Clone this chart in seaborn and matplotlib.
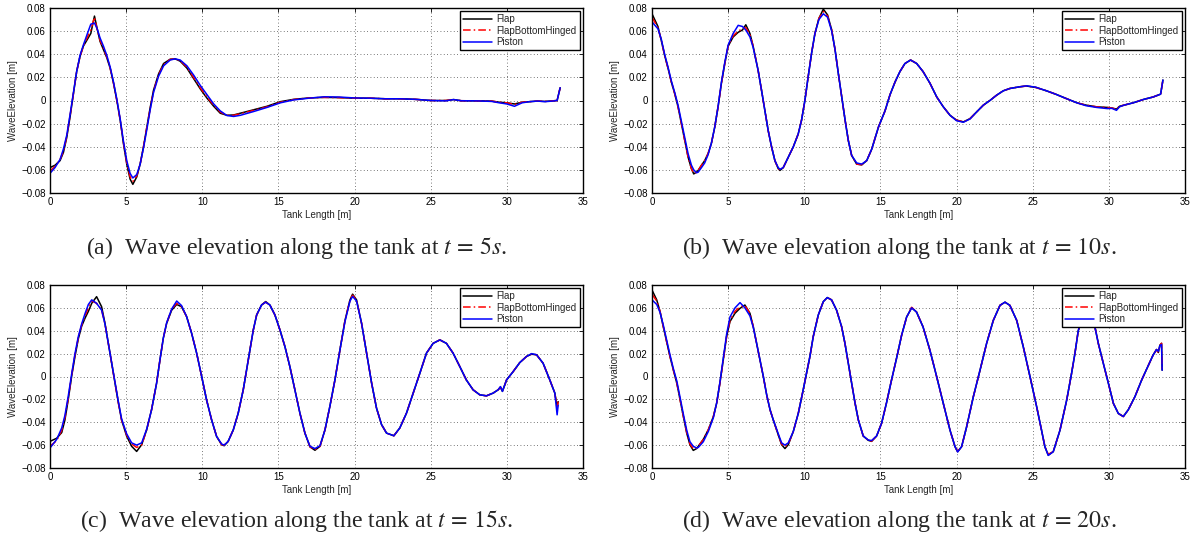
import numpy as np
import pandas as pd
import matplotlib
matplotlib.use("Agg")
import matplotlib.pyplot as plt
from matplotlib.ticker import FuncFormatter
import seaborn as sns

# ---------------------------------------------------------------------------
# Free-surface elevation along the tank for three wave-maker types
# ---------------------------------------------------------------------------
SERIES = ["Flap", "FlapBottomHinged", "Piston"]

# t = 5 s
X_A = [0, 0.33, 0.66, 0.88, 1.10, 1.32, 1.54, 1.75, 1.97, 2.19, 2.46, 2.68, 2.92, 3.10, 3.29,
       3.51, 3.73, 3.95, 4.17, 4.39, 4.61, 4.82, 5.04, 5.26, 5.44, 5.70, 5.92, 6.14, 6.36, 6.58,
       6.80, 7.13, 7.46, 7.89, 8.22, 8.55, 8.99, 9.43, 9.87, 10.31, 10.75, 11.18, 11.62, 12.06,
       12.50, 13.38, 14.25, 15.13, 16.0, 17.0, 18.0, 19.0, 20.0, 21.0, 22.0, 23.0, 24.0, 25.0,
       26.0, 26.5, 27.0, 28.0, 29.0, 29.5, 30.0, 30.5, 31.0, 31.5, 32.0, 32.5, 33.0, 33.3, 33.5]
FLAP_A = [-0.058, -0.056, -0.052, -0.045, -0.032, -0.014, 0.006, 0.025, 0.038, 0.047, 0.053,
          0.058, 0.073, 0.062, 0.051, 0.044, 0.037, 0.028, 0.015, 0.0, -0.017, -0.037, -0.055,
          -0.068, -0.0725, -0.066, -0.055, -0.040, -0.023, -0.006, 0.009, 0.023, 0.032, 0.0357,
          0.036, 0.034, 0.028, 0.019, 0.010, 0.002, -0.005, -0.011, -0.0128, -0.0125, -0.011,
          -0.008, -0.005, -0.001, 0.001, 0.0022, 0.0027, 0.0025, 0.002, 0.002, 0.0015, 0.0015,
          0.001, 0.0, 0.0, 0.0008, -0.0002, -0.0003, -0.0005, -0.0015, -0.002, -0.003, -0.0015,
          -0.001, -0.0005, -0.0008, -0.0003, 0.0, 0.011]
HINGED_A = [-0.061, -0.057, -0.051, -0.044, -0.031, -0.013, 0.006, 0.025, 0.038, 0.047, 0.055,
            0.061, 0.072, 0.061, 0.052, 0.045, 0.038, 0.028, 0.015, 0.0, -0.017, -0.036, -0.054,
            -0.066, -0.070, -0.065, -0.055, -0.040, -0.023, -0.007, 0.008, 0.022, 0.031, 0.0355,
            0.036, 0.0345, 0.029, 0.020, 0.011, 0.003, -0.004, -0.010, -0.0128, -0.0128, -0.0115,
            -0.0085, -0.0055, -0.0015, 0.0008, 0.0022, 0.0027, 0.0025, 0.002, 0.002, 0.0015, 0.0015,
            0.001, 0.0, 0.0, 0.0008, -0.0002, -0.0003, -0.0005, -0.0015, -0.002, -0.0035, -0.0015,
            -0.001, -0.0005, -0.0008, -0.0003, 0.0, 0.011]
PISTON_A = [-0.063, -0.058, -0.051, -0.042, -0.030, -0.012, 0.007, 0.025, 0.039, 0.048, 0.058,
            0.066, 0.067, 0.062, 0.054, 0.047, 0.039, 0.029, 0.016, 0.001, -0.016, -0.035, -0.052,
            -0.063, -0.067, -0.064, -0.055, -0.041, -0.025, -0.008, 0.007, 0.021, 0.030, 0.035,
            0.036, 0.035, 0.030, 0.022, 0.013, 0.005, -0.003, -0.009, -0.013, -0.0138, -0.0128,
            -0.0095, -0.006, -0.002, 0.0005, 0.002, 0.0032, 0.003, 0.0022, 0.002, 0.0015, 0.0015,
            0.001, 0.0, -0.0003, 0.0008, -0.0002, -0.0003, -0.0008, -0.002, -0.003, -0.005, -0.002,
            -0.001, -0.0005, -0.001, -0.0005, 0.0, 0.011]

# t = 10 s
X_B = [0, 0.39, 0.61, 0.83, 1.05, 1.27, 1.49, 1.71, 1.93, 2.15, 2.37, 2.59, 2.74, 2.92, 3.03,
       3.25, 3.46, 3.68, 3.90, 4.12, 4.34, 4.56, 4.78, 5.00, 5.33, 5.66, 5.94, 6.16, 6.43, 6.64,
       6.97, 7.19, 7.41, 7.63, 7.85, 8.07, 8.29, 8.40, 8.62, 8.95, 9.28, 9.60, 9.82, 10.04, 10.26,
       10.48, 10.70, 10.96, 11.25, 11.53, 11.80, 12.02, 12.24, 12.46, 12.68, 12.89, 13.11, 13.44,
       13.77, 14.10, 14.43, 14.87, 15.30, 15.63, 15.96, 16.28, 16.61, 16.98, 17.38, 17.80, 18.25,
       18.70, 19.13, 19.57, 20.00, 20.45, 20.88, 21.31, 21.76, 22.19, 22.63, 23.07, 23.50, 24.17,
       24.60, 25.20, 25.90, 26.50, 27.20, 27.90, 28.50, 29.20, 29.90, 30.20, 30.50, 30.70, 31.00,
       31.60, 32.30, 32.90, 33.40, 33.55]
FLAP_B = [0.075, 0.064, 0.052, 0.039, 0.028, 0.016, 0.006, -0.0055, -0.020, -0.0345, -0.049,
          -0.059, -0.0635, -0.062, -0.0605, -0.056, -0.052, -0.046, -0.037, -0.023, -0.0055, 0.015,
          0.032, 0.047, 0.055, 0.059, 0.061, 0.0655, 0.058, 0.047, 0.026, 0.009, -0.0085, -0.026,
          -0.040, -0.052, -0.059, -0.0605, -0.058, -0.049, -0.040, -0.029, -0.017, 0.0, 0.021,
          0.041, 0.058, 0.071, 0.079, 0.074, 0.061, 0.044, 0.023, 0.003, -0.017, -0.0345, -0.0475,
          -0.055, -0.0557, -0.052, -0.042, -0.023, -0.009, 0.005, 0.016, 0.025, 0.032, 0.035,
          0.032, 0.025, 0.015, 0.003, -0.0055, -0.0128, -0.017, -0.0185, -0.0157, -0.010, -0.004,
          0.0, 0.0046, 0.0084, 0.0104, 0.0119, 0.0125, 0.0113, 0.0084, 0.0055, 0.0017, -0.002,
          -0.004, -0.0055, -0.006, -0.0065, -0.0075, -0.005, -0.004, -0.002, 0.001, 0.003, 0.0055,
          0.0177]
HINGED_B = [0.072, 0.063, 0.052, 0.039, 0.028, 0.016, 0.006, -0.0055, -0.020, -0.0345, -0.049,
            -0.059, -0.063, -0.062, -0.0605, -0.056, -0.052, -0.046, -0.037, -0.023, -0.0055, 0.015,
            0.032, 0.047, 0.056, 0.060, 0.062, 0.063, 0.057, 0.047, 0.026, 0.009, -0.0085, -0.026,
            -0.040, -0.052, -0.059, -0.060, -0.058, -0.049, -0.040, -0.029, -0.017, 0.0, 0.021,
            0.041, 0.058, 0.071, 0.077, 0.073, 0.061, 0.044, 0.023, 0.003, -0.017, -0.0345, -0.0475,
            -0.055, -0.0555, -0.052, -0.042, -0.023, -0.009, 0.005, 0.016, 0.025, 0.032, 0.035,
            0.032, 0.025, 0.015, 0.003, -0.0055, -0.0128, -0.017, -0.0185, -0.0157, -0.010, -0.004,
            0.0, 0.0046, 0.0084, 0.0104, 0.0119, 0.0125, 0.0113, 0.0084, 0.0055, 0.0017, -0.002,
            -0.004, -0.0055, -0.006, -0.0065, -0.0075, -0.005, -0.004, -0.002, 0.001, 0.003, 0.0055,
            0.0177]
PISTON_B = [0.068, 0.062, 0.053, 0.040, 0.029, 0.017, 0.007, -0.004, -0.018, -0.032, -0.046,
            -0.056, -0.060, -0.0625, -0.062, -0.058, -0.054, -0.047, -0.037, -0.023, -0.005, 0.016,
            0.033, 0.048, 0.058, 0.065, 0.064, 0.061, 0.055, 0.046, 0.026, 0.009, -0.0085, -0.026,
            -0.040, -0.052, -0.058, -0.0595, -0.058, -0.049, -0.040, -0.029, -0.017, 0.0, 0.021,
            0.041, 0.058, 0.070, 0.075, 0.072, 0.060, 0.044, 0.023, 0.003, -0.017, -0.0345, -0.0475,
            -0.054, -0.055, -0.052, -0.042, -0.023, -0.009, 0.005, 0.016, 0.025, 0.032, 0.035,
            0.032, 0.025, 0.015, 0.003, -0.0055, -0.0128, -0.0175, -0.0188, -0.016, -0.010, -0.004,
            0.0, 0.0046, 0.0084, 0.0104, 0.0119, 0.0127, 0.0115, 0.0084, 0.0055, 0.0017, -0.002,
            -0.0045, -0.006, -0.007, -0.0068, -0.0085, -0.0055, -0.004, -0.002, 0.001, 0.003, 0.0055,
            0.0177]

# t = 15 s
X_C = [0, 0.44, 0.77, 0.98, 1.20, 1.42, 1.64, 1.86, 2.08, 2.30, 2.52, 2.74, 3.06, 3.39, 3.61,
       3.83, 4.05, 4.27, 4.49, 4.70, 5.03, 5.36, 5.69, 6.02, 6.35, 6.67, 7.00, 7.22, 7.44, 7.66,
       7.99, 8.32, 8.64, 8.97, 9.30, 9.63, 9.96, 10.28, 10.61, 10.94, 11.27, 11.44, 11.70, 12.04,
       12.36, 12.69, 12.91, 13.13, 13.35, 13.57, 13.89, 14.16, 14.44, 14.77, 15.10, 15.43, 15.75,
       16.08, 16.41, 16.74, 17.07, 17.40, 17.73, 18.06, 18.38, 18.71, 19.04, 19.37, 19.70, 19.87,
       20.13, 20.46, 20.79, 21.12, 21.44, 21.77, 22.10, 22.58, 22.97, 23.41, 23.85, 24.29, 24.72,
       25.16, 25.60, 26.03, 26.47, 26.91, 27.34, 27.78, 28.22, 28.66, 29.10, 29.43, 29.58, 29.71,
       29.98, 30.42, 30.85, 31.29, 31.62, 31.95, 32.38, 32.82, 33.15, 33.30, 33.37]
FLAP_C = [-0.0567, -0.054, -0.049, -0.038, -0.020, 0.0, 0.0175, 0.033, 0.044, 0.051, 0.057, 0.064,
          0.0698, 0.061, 0.0465, 0.029, 0.0116, -0.0058, -0.023, -0.038, -0.052, -0.061, -0.0655,
          -0.0596, -0.0465, -0.029, -0.0058, 0.0145, 0.0335, 0.0465, 0.058, 0.063, 0.061, 0.0524,
          0.0378, 0.0204, 0.0, -0.0204, -0.0378, -0.0524, -0.0596, -0.0605, -0.0567, -0.0465,
          -0.032, -0.0116, 0.0058, 0.0233, 0.0407, 0.0538, 0.0625, 0.0655, 0.0625, 0.0538, 0.0407,
          0.026, 0.0087, -0.0116, -0.032, -0.0495, -0.0615, -0.0645, -0.061, -0.0465, -0.026,
          -0.003, 0.0233, 0.049, 0.067, 0.072, 0.067, 0.0465, 0.0204, -0.0058, -0.0276, -0.042,
          -0.0495, -0.0518, -0.045, -0.032, -0.0145, 0.003, 0.0204, 0.029, 0.032, 0.029, 0.0204,
          0.0087, -0.003, -0.0116, -0.016, -0.0169, -0.0145, -0.0116, -0.0093, -0.013, -0.003,
          0.0044, 0.0122, 0.0175, 0.0195, 0.019, 0.0116, -0.003, -0.0145, -0.026, -0.022]
HINGED_C = [-0.061, -0.056, -0.047, -0.036, -0.019, 0.001, 0.019, 0.034, 0.045, 0.053, 0.060,
            0.066, 0.064, 0.058, 0.046, 0.029, 0.0116, -0.0058, -0.023, -0.038, -0.051, -0.059,
            -0.062, -0.060, -0.0465, -0.029, -0.0058, 0.0145, 0.0335, 0.0465, 0.059, 0.064, 0.061,
            0.0524, 0.0378, 0.0204, 0.0, -0.0204, -0.0378, -0.0524, -0.0596, -0.060, -0.0567,
            -0.0465, -0.032, -0.0116, 0.0058, 0.0233, 0.0407, 0.0538, 0.0625, 0.065, 0.0625, 0.0538,
            0.0407, 0.026, 0.0087, -0.0116, -0.032, -0.0495, -0.0615, -0.064, -0.061, -0.0465,
            -0.026, -0.003, 0.0233, 0.049, 0.067, 0.071, 0.067, 0.0465, 0.0204, -0.0058, -0.0276,
            -0.042, -0.0495, -0.0518, -0.045, -0.032, -0.0145, 0.003, 0.0204, 0.029, 0.032, 0.029,
            0.0204, 0.0087, -0.003, -0.0116, -0.016, -0.0169, -0.0145, -0.0116, -0.0093, -0.013,
            -0.003, 0.0044, 0.0122, 0.0175, 0.0195, 0.019, 0.0116, -0.003, -0.0145, -0.028, -0.022]
PISTON_C = [-0.0625, -0.055, -0.045, -0.034, -0.017, 0.002, 0.020, 0.035, 0.046, 0.055, 0.063,
            0.067, 0.064, 0.058, 0.046, 0.029, 0.012, -0.005, -0.022, -0.037, -0.050, -0.058,
            -0.060, -0.058, -0.046, -0.029, -0.0058, 0.0145, 0.0335, 0.047, 0.059, 0.066, 0.062,
            0.0524, 0.0378, 0.0204, 0.0, -0.0204, -0.0378, -0.0524, -0.059, -0.060, -0.0567,
            -0.0465, -0.032, -0.0116, 0.0058, 0.0233, 0.0407, 0.0538, 0.0625, 0.065, 0.0625, 0.0538,
            0.0407, 0.026, 0.0087, -0.0116, -0.032, -0.0495, -0.061, -0.063, -0.0605, -0.0465,
            -0.026, -0.003, 0.0233, 0.048, 0.066, 0.070, 0.066, 0.0465, 0.0204, -0.0058, -0.0276,
            -0.042, -0.0495, -0.0518, -0.045, -0.032, -0.0145, 0.003, 0.0204, 0.029, 0.032, 0.029,
            0.0204, 0.0087, -0.003, -0.0116, -0.016, -0.0169, -0.0145, -0.0116, -0.0088, -0.013,
            -0.003, 0.0044, 0.0122, 0.0175, 0.020, 0.019, 0.0116, -0.003, -0.0145, -0.0335, -0.025]

# t = 20 s
X_D = [0, 0.31, 0.53, 0.74, 0.96, 1.18, 1.40, 1.63, 1.84, 2.06, 2.28, 2.49, 2.71, 2.93, 3.04,
       3.37, 3.70, 4.03, 4.25, 4.46, 4.68, 4.90, 5.12, 5.45, 5.78, 6.10, 6.43, 6.65, 6.87, 7.09,
       7.31, 7.53, 7.75, 7.96, 8.29, 8.51, 8.73, 8.95, 9.28, 9.61, 9.93, 10.15, 10.37, 10.59,
       10.92, 11.25, 11.51, 11.79, 12.12, 12.45, 12.67, 12.89, 13.11, 13.33, 13.55, 13.87, 14.20,
       14.42, 14.75, 15.08, 15.40, 15.73, 16.06, 16.39, 16.72, 17.05, 17.37, 17.80, 18.25, 18.69,
       19.13, 19.57, 19.90, 20.07, 20.33, 20.66, 21.10, 21.54, 21.97, 22.41, 22.85, 23.18, 23.50,
       23.95, 24.38, 24.82, 25.26, 25.58, 25.80, 26.02, 26.35, 26.79, 27.23, 27.55, 27.77, 27.99,
       28.30, 28.60, 28.85, 29.09, 29.31, 29.64, 29.97, 30.30, 30.62, 30.95, 31.28, 31.71, 32.15,
       32.60, 32.90, 33.13, 33.25, 33.35, 33.46, 33.50]
FLAP_D = [0.0756, 0.067, 0.0567, 0.0436, 0.0305, 0.0175, 0.0058, -0.0058, -0.020, -0.035, -0.0495,
          -0.0596, -0.0646, -0.063, -0.061, -0.055, -0.0465, -0.035, -0.023, -0.0058, 0.0145, 0.035,
          0.048, 0.0553, 0.0596, 0.0625, 0.0553, 0.0436, 0.029, 0.0145, 0.0, -0.016, -0.029, -0.0378,
          -0.051, -0.0596, -0.063, -0.0596, -0.048, -0.032, -0.0116, 0.003, 0.0175, 0.035, 0.0538,
          0.0655, 0.069, 0.067, 0.058, 0.0436, 0.029, 0.0116, -0.0058, -0.023, -0.038, -0.052,
          -0.0558, -0.0567, -0.052, -0.0407, -0.023, -0.003, 0.016, 0.036, 0.052, 0.0602, 0.0564,
          0.0433, 0.023, 0.0, -0.0236, -0.047, -0.0614, -0.0657, -0.0614, -0.044, -0.0177, 0.0055,
          0.0288, 0.049, 0.0622, 0.065, 0.0622, 0.049, 0.026, 0.0, -0.0265, -0.047, -0.0614, -0.0687,
          -0.0657, -0.047, -0.0207, 0.0026, 0.020, 0.040, 0.053, 0.056, 0.052, 0.043, 0.0288, 0.0113,
          -0.006, -0.0236, -0.0323, -0.035, -0.029, -0.0177, -0.0032, 0.0099, 0.0186, 0.0236, 0.021,
          0.0273, 0.029, 0.0055]
HINGED_D = [0.072, 0.066, 0.0567, 0.0436, 0.0305, 0.0175, 0.0058, -0.0058, -0.020, -0.035, -0.049,
            -0.059, -0.063, -0.0625, -0.061, -0.055, -0.0465, -0.035, -0.023, -0.0058, 0.0145, 0.035,
            0.049, 0.057, 0.061, 0.062, 0.0553, 0.0436, 0.029, 0.0145, 0.0, -0.016, -0.029, -0.0378,
            -0.051, -0.059, -0.0615, -0.059, -0.048, -0.032, -0.0116, 0.003, 0.0175, 0.035, 0.0538,
            0.0655, 0.069, 0.067, 0.058, 0.0436, 0.029, 0.0116, -0.0058, -0.023, -0.038, -0.052,
            -0.0558, -0.0565, -0.052, -0.0407, -0.023, -0.003, 0.016, 0.036, 0.052, 0.0605, 0.0564,
            0.0433, 0.023, 0.0, -0.0236, -0.047, -0.0614, -0.0655, -0.0614, -0.044, -0.0177, 0.0055,
            0.0288, 0.049, 0.0622, 0.065, 0.0622, 0.049, 0.026, 0.0, -0.0265, -0.047, -0.0614, -0.068,
            -0.0657, -0.047, -0.0207, 0.0026, 0.020, 0.040, 0.053, 0.056, 0.052, 0.043, 0.0288, 0.0113,
            -0.006, -0.0236, -0.0323, -0.035, -0.029, -0.0177, -0.0032, 0.0099, 0.0186, 0.0236, 0.021,
            0.0273, 0.029, 0.0055]
PISTON_D = [0.067, 0.063, 0.056, 0.045, 0.032, 0.019, 0.007, -0.004, -0.018, -0.033, -0.047,
            -0.057, -0.061, -0.0625, -0.062, -0.057, -0.048, -0.036, -0.023, -0.005, 0.016, 0.037,
            0.052, 0.060, 0.0646, 0.060, 0.053, 0.043, 0.029, 0.0145, 0.0, -0.016, -0.029, -0.0378,
            -0.050, -0.058, -0.060, -0.058, -0.048, -0.032, -0.0116, 0.003, 0.0175, 0.035, 0.0538,
            0.0655, 0.069, 0.067, 0.058, 0.0436, 0.029, 0.0116, -0.0058, -0.023, -0.038, -0.052,
            -0.0555, -0.056, -0.052, -0.0407, -0.023, -0.003, 0.016, 0.036, 0.052, 0.060, 0.0564,
            0.0433, 0.023, 0.0, -0.0236, -0.047, -0.0614, -0.066, -0.0614, -0.044, -0.0177, 0.0055,
            0.0288, 0.049, 0.0622, 0.065, 0.0622, 0.049, 0.026, 0.0, -0.0265, -0.047, -0.0614, -0.069,
            -0.0657, -0.047, -0.0207, 0.0026, 0.020, 0.040, 0.053, 0.056, 0.052, 0.043, 0.0288, 0.0113,
            -0.006, -0.0236, -0.0323, -0.035, -0.029, -0.0177, -0.0032, 0.0099, 0.0186, 0.0236, 0.022,
            0.027, 0.028, 0.0055]

CAPTIONS = [r"(a)  Wave elevation along the tank at $t\,=\,5s$.",
            r"(b)  Wave elevation along the tank at $t\,=\,10s$.",
            r"(c)  Wave elevation along the tank at $t\,=\,15s$.",
            r"(d)  Wave elevation along the tank at $t\,=\,20s$."]
X_TICKS = [0, 5, 10, 15, 20, 25, 30, 35]
Y_TICKS = [-0.08, -0.06, -0.04, -0.02, 0, 0.02, 0.04, 0.06, 0.08]

PANELS = [
    (X_A, FLAP_A, HINGED_A, PISTON_A),
    (X_B, FLAP_B, HINGED_B, PISTON_B),
    (X_C, FLAP_C, HINGED_C, PISTON_C),
    (X_D, FLAP_D, HINGED_D, PISTON_D),
]

# ---------------------------------------------------------------------------
sns.set_style("white")
plt.rcParams["font.family"] = ["Liberation Sans", "DejaVu Sans"]
plt.rcParams["mathtext.fontset"] = "stix"

STYLE = {
    "Flap": dict(color="black", linestyle="-"),
    "FlapBottomHinged": dict(color="#ff0000", linestyle=(0, (5, 2, 1, 2))),
    "Piston": dict(color="#0000ff", linestyle="-"),
}

fig = plt.figure(figsize=(11.95, 5.43), dpi=100)
W, H = 1195.0, 543.0
boxes = [(50, 8, 583, 193), (652, 8, 1185, 193),
         (50, 285, 583, 468), (652, 285, 1185, 468)]
caption_pos = [(297, 248), (899, 248), (297, 521), (899, 521)]


def fmt_y(v, _):
    if abs(v) < 1e-9:
        return "0"
    return f"{v:.2f}".replace("-", "\u2212")


for (x0, y0, x1, y1), data, cap, (cx, cy) in zip(boxes, PANELS, CAPTIONS, caption_pos):
    ax = fig.add_axes([x0 / W, 1 - y1 / H, (x1 - x0) / W, (y1 - y0) / H])
    xs = data[0]
    frame = pd.DataFrame({
        "x": list(xs) * 3,
        "eta": list(data[1]) + list(data[2]) + list(data[3]),
        "maker": [s for s in SERIES for _ in xs],
    })
    for name in SERIES:
        sub = frame[frame["maker"] == name]
        sns.lineplot(data=sub, x="x", y="eta", ax=ax, estimator=None, sort=False,
                     lw=1.1, label=name, **STYLE[name])

    ax.set_xlim(0, 35)
    ax.set_ylim(-0.08, 0.08)
    ax.set_xticks(X_TICKS)
    ax.set_yticks(Y_TICKS)
    ax.yaxis.set_major_formatter(FuncFormatter(fmt_y))
    ax.tick_params(direction="in", top=True, right=True, length=3, width=0.6,
                   labelsize=7, pad=3, colors="black")
    ax.grid(True, linestyle=(0, (1, 3)), color="0.3", lw=0.6)
    ax.set_axisbelow(True)
    for sp in ax.spines.values():
        sp.set_color("black")
        sp.set_linewidth(1.0)
    ax.set_xlabel("Tank Length [m]", fontsize=7, labelpad=2)
    ax.set_ylabel("WaveElevation [m]", fontsize=7, labelpad=2)

    leg = ax.legend(loc="upper right", fontsize=7, frameon=True, fancybox=False,
                    edgecolor="black", framealpha=1, handlelength=3.0, borderaxespad=0.35,
                    borderpad=0.3, labelspacing=0.15, handletextpad=0.5)
    leg.get_frame().set_linewidth(1.0)

    fig.text(cx / W, 1 - cy / H, cap, ha="center", va="center", fontsize=17.2,
             family="Liberation Serif")

fig.savefig("out.png", dpi=100)
